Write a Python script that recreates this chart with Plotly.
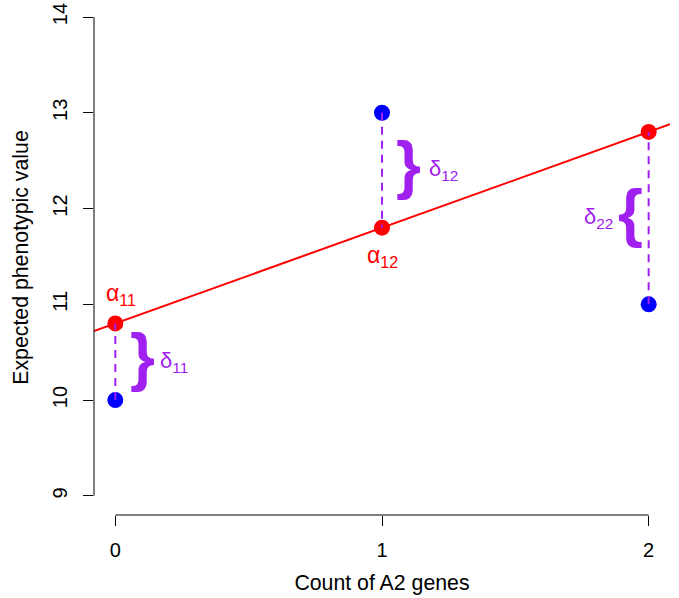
import plotly.graph_objects as go

# ---- data ----
count = [0, 1, 2]
observed = [10, 13, 11]
fitted = [10.8, 11.8, 12.8]
intercept = 10.8
slope = 1.0
x_ticks = [0, 1, 2]
y_ticks = [9, 10, 11, 12, 13, 14]

alpha_labels = ["α<sub>11</sub>", "α<sub>12</sub>"]
alpha_x = [0.02, 1.0]
alpha_y = [11.1, 11.5]

delta_labels = ["δ<sub>11</sub>", "δ<sub>12</sub>", "δ<sub>22</sub>"]
delta_label_x = [0.22, 1.23, 1.81]
brace_chars = ["}", "}", "{"]
brace_x = [0.10, 1.10, 1.93]

RED = "#FF0000"
BLUE = "#0000FF"
PURPLE = "#A020F0"
FONT = "Liberation Sans, Arial, Helvetica, sans-serif"

xlim = [-0.08, 2.08]
ylim = [8.8, 14.1775]

fig = go.Figure()

# blue observed points
fig.add_trace(go.Scatter(x=count, y=observed, mode="markers",
                         marker=dict(color=BLUE, size=16), showlegend=False,
                         cliponaxis=False))
# red fitted points
fig.add_trace(go.Scatter(x=count, y=fitted, mode="markers",
                         marker=dict(color=RED, size=16), showlegend=False,
                         cliponaxis=False))
# regression line (abline) across full plot width
fig.add_trace(go.Scatter(x=xlim, y=[intercept + slope * v for v in xlim], mode="lines",
                         line=dict(color=RED, width=2), showlegend=False))
# dashed segments
for xv, o, f in zip(count, observed, fitted):
    fig.add_trace(go.Scatter(x=[xv, xv], y=[o, f], mode="lines",
                             line=dict(color=PURPLE, width=2, dash="8px,6px"),
                             showlegend=False))

annotations = []
for lab, xv, yv in zip(alpha_labels, alpha_x, alpha_y):
    annotations.append(dict(x=xv, y=yv, text=lab, showarrow=False,
                            font=dict(family=FONT, size=23, color=RED),
                            xanchor="center", yanchor="middle"))
for lab, lx, bx, ch, o, f in zip(delta_labels, delta_label_x, brace_x, brace_chars, observed, fitted):
    mid = (o + f) / 2
    annotations.append(dict(x=lx, y=mid, text=lab, showarrow=False,
                            font=dict(family=FONT, size=22, color=PURPLE),
                            xanchor="center", yanchor="middle"))
    annotations.append(dict(x=bx, y=mid, text="<b>" + ch + "</b>", showarrow=False,
                            font=dict(family=FONT, size=64, color=PURPLE),
                            xanchor="center", yanchor="middle", yshift=5))

# R-style axis lines spanning only tick range
shapes = [
    dict(type="line", xref="x", yref="paper", x0=x_ticks[0], x1=x_ticks[-1], y0=0, y1=0,
         line=dict(color="black", width=1)),
    dict(type="line", xref="paper", yref="y", x0=0, x1=0, y0=y_ticks[0], y1=y_ticks[-1],
         line=dict(color="black", width=1)),
]

fig.update_layout(
    width=679, height=598,
    margin=dict(l=93.6, r=8.6, t=0, b=83, autoexpand=False),
    plot_bgcolor="white", paper_bgcolor="white",
    font=dict(family=FONT, size=20, color="black"),
    annotations=annotations, shapes=shapes,
    xaxis=dict(range=xlim, tickvals=x_ticks, showgrid=False, zeroline=False,
               showline=False, ticks="outside", ticklen=10, tickcolor="black",
               tickwidth=1, ticklabelstandoff=7, automargin=False,
               ticklabeloverflow="allow",
               title=dict(text="Count of A2 genes", standoff=15,
                          font=dict(size=21.3))),
    yaxis=dict(range=ylim, tickvals=y_ticks, showgrid=False, zeroline=False,
               showline=False, ticks="outside", ticklen=10, tickcolor="black",
               tickwidth=1, tickangle=-90, ticklabelstandoff=8, automargin=False,
               ticklabeloverflow="allow",
               title=dict(text="Expected phenotypic value", standoff=14,
                          font=dict(size=21.3))),
)

fig.write_html("out.html", config={"displayModeBar": False},
               post_script="document.body.style.margin='0';document.body.style.overflow='hidden';")
